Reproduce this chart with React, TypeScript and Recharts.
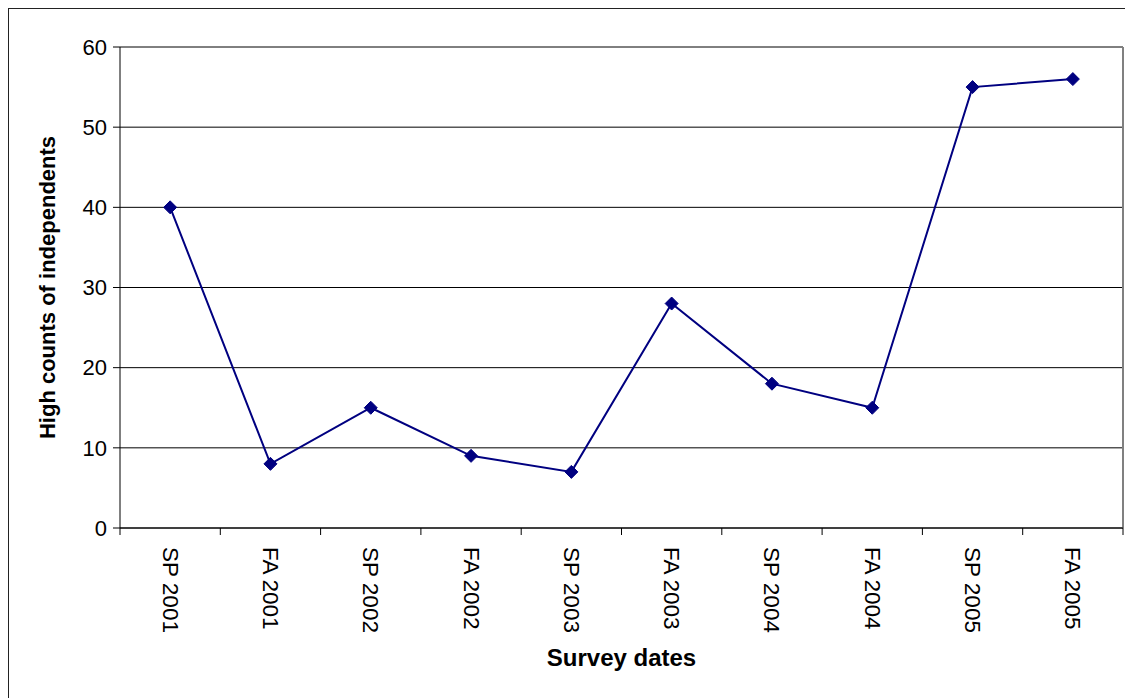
import { CartesianGrid, Label, Line, LineChart, XAxis, YAxis } from "recharts";

// Survey dates along the bottom and the high counts of independents seen on each
const SURVEY_DATES = [
    "SP 2001", "FA 2001", "SP 2002", "FA 2002", "SP 2003",
    "FA 2003", "SP 2004", "FA 2004", "SP 2005", "FA 2005",
];
const HIGH_COUNTS = [40, 8, 15, 9, 7, 28, 18, 15, 55, 56];
const COUNT_TICKS = [0, 10, 20, 30, 40, 50, 60];

const FONT = "'Liberation Sans', Arial, sans-serif";
const CHART_W = 1124;
const CHART_H = 689;
const MARGIN = { top: 38, right: 10, left: 0, bottom: 0 };
const Y_AXIS_W = 111;
const X_AXIS_H = 170;
const PLOT_W = CHART_W - MARGIN.left - MARGIN.right - Y_AXIS_W;
// half a category band, so each date sits in the middle of its slot
const HALF_BAND = PLOT_W / SURVEY_DATES.length / 2;

const data = SURVEY_DATES.map((date, i) => ({ date, count: HIGH_COUNTS[i] }));

// Category labels run top-to-bottom; the tick marks sit between categories
const DateTick = (props: any) => {
    const { x, y, payload, index } = props;
    return (
        <g>
            <line x1={x - HALF_BAND} y1={y} x2={x - HALF_BAND} y2={y + 7} stroke="#000" />
            {index === SURVEY_DATES.length - 1 && (
                <line x1={x + HALF_BAND} y1={y} x2={x + HALF_BAND} y2={y + 7} stroke="#000" />
            )}
            <text
                transform={`translate(${x},${y + 19}) rotate(90)`}
                textAnchor="start"
                dominantBaseline="central"
                fontSize={22.5}
                fontFamily={FONT}
                fill="#000"
            >
                {payload.value}
            </text>
        </g>
    );
};

const Diamond = (props: any) => {
    const { cx, cy } = props;
    if (cx == null || cy == null) return null;
    const r = 6.5;
    return (
        <polygon
            points={`${cx},${cy - r} ${cx + r},${cy} ${cx},${cy + r} ${cx - r},${cy}`}
            fill="#000080"
            stroke="#000080"
        />
    );
};

const App = () => {
    return (
        <div
            style={{
                width: 1125,
                height: 690,
                borderLeft: "1px solid #222",
                borderTop: "1px solid #222",
                boxSizing: "border-box",
                background: "#fff",
            }}
        >
            <LineChart width={CHART_W} height={CHART_H} data={data} margin={MARGIN}>
                <CartesianGrid vertical={false} stroke="#000" strokeWidth={1} />
                {/* grey frame on the right side of the plot */}
                <CartesianGrid
                    horizontal={false}
                    stroke="#808080"
                    strokeWidth={2}
                    verticalCoordinatesGenerator={({ offset }: any) => [offset.left + offset.width]}
                />
                <XAxis
                    dataKey="date"
                    interval={0}
                    height={X_AXIS_H}
                    padding={{ left: HALF_BAND, right: HALF_BAND }}
                    tickSize={0}
                    tickMargin={0}
                    tickLine={false}
                    tick={<DateTick />}
                    axisLine={{ stroke: "#000" }}
                >
                    <Label
                        content={(p: any) => {
                            const vb = p.viewBox || {};
                            return (
                                <text
                                    x={vb.x + vb.width / 2}
                                    y={vb.y + 138}
                                    textAnchor="middle"
                                    fontSize={24}
                                    fontWeight="bold"
                                    fontFamily={FONT}
                                    fill="#000"
                                >
                                    Survey dates
                                </text>
                            );
                        }}
                    />
                </XAxis>
                <XAxis
                    xAxisId="top"
                    dataKey="date"
                    orientation="top"
                    height={0}
                    tick={false}
                    tickLine={false}
                    axisLine={{ stroke: "#808080" }}
                />
                <YAxis
                    domain={[0, 60]}
                    ticks={COUNT_TICKS}
                    width={Y_AXIS_W}
                    tickSize={7}
                    tickMargin={6}
                    tickLine={{ stroke: "#000" }}
                    axisLine={{ stroke: "#000" }}
                    tick={{ fill: "#000", fontSize: 22, fontFamily: FONT }}
                >
                    <Label
                        content={(p: any) => {
                            const vb = p.viewBox || {};
                            const cx = vb.x + 38;
                            const cy = vb.y + vb.height / 2;
                            return (
                                <text
                                    transform={`translate(${cx},${cy}) rotate(-90)`}
                                    textAnchor="middle"
                                    dominantBaseline="central"
                                    fontSize={22}
                                    fontWeight="bold"
                                    fontFamily={FONT}
                                    fill="#000"
                                >
                                    High counts of independents
                                </text>
                            );
                        }}
                    />
                </YAxis>
                <Line
                    type="linear"
                    dataKey="count"
                    stroke="#000080"
                    strokeWidth={2}
                    dot={<Diamond />}
                    activeDot={false}
                    isAnimationActive={false}
                />
            </LineChart>
        </div>
    );
};

export default App;
